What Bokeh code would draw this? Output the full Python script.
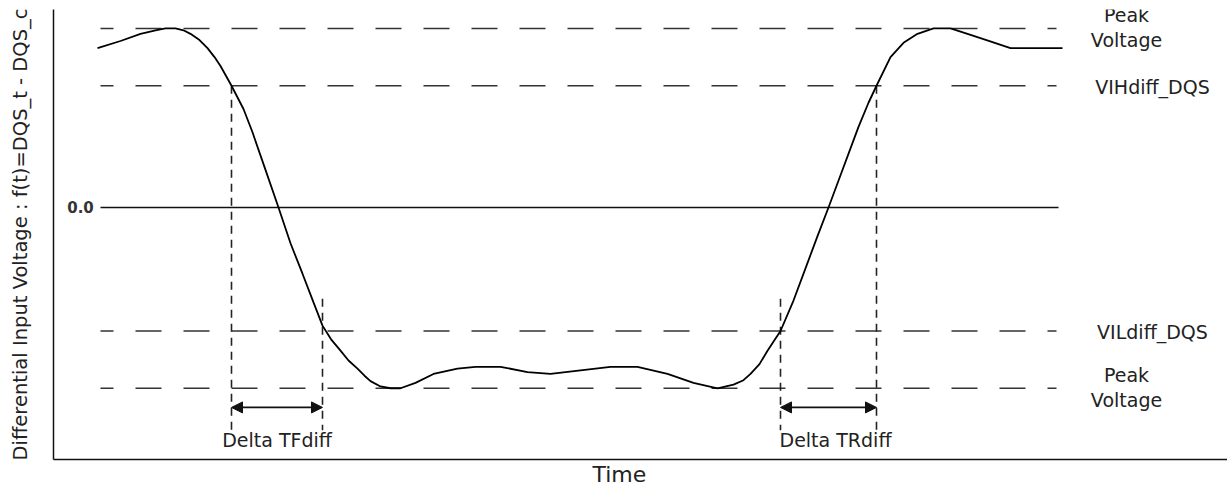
from bokeh.plotting import figure
from bokeh.models import Range1d, FixedTicker, Arrow, NormalHead, Title
from bokeh.core.properties import value
from bokeh.embed import file_html
from bokeh.resources import INLINE

# ---- data (time in arbitrary units, voltage normalised to peak) ----
time = [44, 67, 87, 102, 112, 122, 130, 137, 146, 154, 161, 167, 178, 190, 199, 212,
        225, 237, 249, 260, 269, 278, 287, 295, 304, 311, 317, 327, 337, 347, 362,
        380, 404, 422, 447, 474, 497, 527, 557, 584, 614, 640, 664, 680, 690, 697,
        706, 714, 727, 740, 752, 764, 775, 787, 797, 805, 815, 823, 837, 850, 864,
        880, 897, 914, 930, 957, 1009]
voltage = [0.89, 0.93, 0.97, 0.99, 1.00, 1.00, 0.99, 0.97, 0.935, 0.89, 0.84, 0.79,
           0.68, 0.55, 0.42, 0.21, 0.00, -0.20, -0.37, -0.53, -0.66, -0.74, -0.80,
           -0.855, -0.90, -0.94, -0.97, -1.00, -1.01, -1.01, -0.98, -0.93, -0.90, -0.89,
           -0.89, -0.92, -0.93, -0.91, -0.89, -0.89, -0.93, -0.98, -1.01, -0.99, -0.965,
           -0.93, -0.875, -0.80, -0.69, -0.52, -0.34, -0.16, 0.00, 0.18, 0.33, 0.45,
           0.585, 0.68, 0.84, 0.92, 0.97, 1.00, 1.00, 0.97, 0.94, 0.89, 0.89]

level_names = ["Peak\nVoltage", "VIHdiff_DQS", "VILdiff_DQS", "Peak\nVoltage"]
level_values = [1.00, 0.68, -0.69, -1.01]
zero_label = "0.0"
ref_start, ref_end = 47, 1003

tf_start, tf_end = 178, 269      # Delta TFdiff window
tr_start, tr_end = 727, 823      # Delta TRdiff window
delta_names = ["Delta TFdiff", "Delta TRdiff"]
x_title = "Time"
y_title = "Differential Input Voltage : f(t)=DQS_t - DQS_c"

FONT = "DejaVu Sans"
INK = "#111111"
TXT = "#222222"

p = figure(width=1227, height=487, output_backend="svg", toolbar_location=None,
           x_range=Range1d(0, 1174), y_range=Range1d(-1.408, 1.106),
           min_border_left=53, min_border_top=9, min_border_bottom=28, min_border_right=0)
p.grid.visible = False
p.outline_line_color = None
p.background_fill_color = "white"

for ax in (p.xaxis[0], p.yaxis[0]):
    ax.ticker = FixedTicker(ticks=[])
    ax.major_tick_out = 0
    ax.major_tick_in = 0
    ax.minor_tick_out = 0
    ax.minor_tick_in = 0
    ax.major_label_text_font_size = "0px"
    ax.axis_line_color = INK
    ax.axis_line_width = 1.5
    ax.axis_label_text_font = FONT
    ax.axis_label_text_font_style = "normal"
    ax.axis_label_text_color = TXT

p.yaxis.axis_label = y_title
p.yaxis.axis_label_text_font_size = "19.5px"
p.yaxis.axis_label_standoff = 22

# x title under the axis, placed where the reference has it
p.add_layout(Title(text=x_title, align="left", offset=539, standoff=0,
                   text_font=FONT, text_font_size="22px", text_font_style="normal",
                   text_color=TXT), "below")

# reference levels (dashed) and zero line (solid)
p.segment(x0=[ref_start] * len(level_values), x1=[ref_end] * len(level_values),
          y0=level_values, y1=level_values, line_color="#333333", line_width=1.6,
          line_dash="26 22", line_dash_offset=13)
p.segment(x0=[ref_start], x1=[ref_end + 2], y0=[0.0], y1=[0.0], line_color=INK, line_width=1.4)

# vertical measurement markers
v_bottom = -1.245
vx = [tf_start, tf_end, tr_start, tr_end]
vtop = [level_values[1], -0.51, -0.51, level_values[1]]
p.segment(x0=vx, x1=vx, y0=vtop, y1=[v_bottom] * 4, line_color="#222222",
          line_width=1.6, line_dash="8 6")

# waveform
p.line(time, voltage, line_color="black", line_width=1.8)

# arrows
arrow_y = -1.117
for a, b in ((tf_start, tf_end), (tr_start, tr_end)):
    p.add_layout(Arrow(x_start=a, y_start=arrow_y, x_end=b, y_end=arrow_y,
                       line_color=INK, line_width=1.6,
                       start=NormalHead(size=11, fill_color=INK, line_color=INK),
                       end=NormalHead(size=11, fill_color=INK, line_color=INK)))

# delta labels
p.text(x=[(tf_start + tf_end) / 2, (tr_start + tr_end) / 2 + 7], y=[-1.30, -1.30],
       text=delta_names, text_font=value(FONT), text_font_size=value("19px"),
       text_align="center", text_baseline="middle", text_color=TXT)

# right level labels
lab_x = [1073 if "\n" in n else 1099 for n in level_names]
lab_y = [v + (0.006 if "\n" in n else -0.005) for n, v in zip(level_names, level_values)]
p.text(x=lab_x, y=lab_y, text=level_names, text_font=value(FONT),
       text_font_size=value("19px"), text_align="center", text_baseline="middle",
       text_line_height=1.15, text_color=TXT)

# zero label
p.text(x=[27], y=[0.0], text=[zero_label], text_font=value(FONT),
       text_font_size=value("15px"), text_font_style="bold", text_align="center",
       text_baseline="middle", text_color="#333333")

open("out.html", "w").write(file_html(p, INLINE))
